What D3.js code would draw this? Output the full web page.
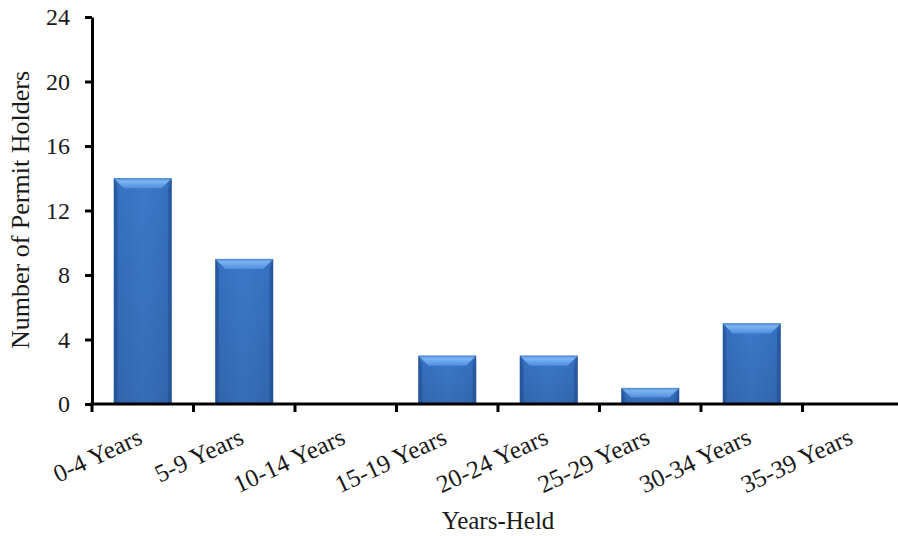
<!DOCTYPE html>
<html>
<head>
<meta charset="utf-8">
<script src="https://cdn.jsdelivr.net/npm/d3@7/dist/d3.min.js"></script>
<style>
  html, body { margin: 0; padding: 0; background: #fff; }
  svg { display: block; }
  text { font-family: "Liberation Serif", "Times New Roman", serif; fill: #1a1a1a; }
</style>
</head>
<body>
<svg id="chart" width="898" height="536"></svg>
<script>
// Permit holders by years the permit has been held
const categories = ["0-4 Years", "5-9 Years", "10-14 Years", "15-19 Years",
                    "20-24 Years", "25-29 Years", "30-34 Years", "35-39 Years"];
const holders = [14, 9, 0, 3, 3, 1, 5, 0];
const yTicks = [0, 4, 8, 12, 16, 20, 24];
const xTitle = "Years-Held";
const yTitle = "Number of Permit Holders";

const svg = d3.select("#chart");
const plotLeft = 92, plotRight = 904, plotTop = 17, plotBottom = 404;

const x = d3.scaleBand().domain(categories).range([plotLeft, plotRight])
  .paddingInner(0.43).paddingOuter(0.215);
const y = d3.scaleLinear().domain([0, 24]).range([plotBottom, plotTop]);

// gradients for the bevelled bars
const defs = svg.append("defs");
const body = defs.append("linearGradient").attr("id", "barBody")
  .attr("x1", 0).attr("x2", 1).attr("y1", 0).attr("y2", 0);
body.append("stop").attr("offset", "0%").attr("stop-color", "#2b5ea8");
body.append("stop").attr("offset", "8%").attr("stop-color", "#3671c0");
body.append("stop").attr("offset", "50%").attr("stop-color", "#3c79c9");
body.append("stop").attr("offset", "92%").attr("stop-color", "#3671c0");
body.append("stop").attr("offset", "100%").attr("stop-color", "#2b5ea8");

const shade = defs.append("linearGradient").attr("id", "barShade")
  .attr("x1", 0).attr("x2", 0).attr("y1", 0).attr("y2", 1);
shade.append("stop").attr("offset", "0%").attr("stop-color", "#000").attr("stop-opacity", 0);
shade.append("stop").attr("offset", "100%").attr("stop-color", "#000").attr("stop-opacity", 0.1);

const topBevel = defs.append("linearGradient").attr("id", "barTop")
  .attr("x1", 0).attr("x2", 0).attr("y1", 0).attr("y2", 1);
topBevel.append("stop").attr("offset", "0%").attr("stop-color", "#4a88d8");
topBevel.append("stop").attr("offset", "30%").attr("stop-color", "#7db3f1");
topBevel.append("stop").attr("offset", "100%").attr("stop-color", "#4f8ede");

const bev = 10;
const bars = svg.append("g").selectAll("g.bar")
  .data(categories.map((c, i) => ({ c, v: holders[i] })).filter(d => d.v > 0))
  .join("g").attr("class", "bar");

bars.each(function (d) {
  const g = d3.select(this);
  const x0 = x(d.c), w = x.bandwidth();
  const y0 = y(d.v), h = y(0) - y(d.v);
  const b = Math.min(bev, h * 0.6, w / 2);
  const s = 3.5;
  g.append("rect").attr("x", x0).attr("y", y0).attr("width", w).attr("height", h)
    .attr("fill", "url(#barBody)");
  g.append("rect").attr("x", x0).attr("y", y0).attr("width", w).attr("height", h)
    .attr("fill", "url(#barShade)");
  // side bevels
  g.append("polygon")
    .attr("points", [[x0, y0], [x0 + s, y0 + b], [x0 + s, y0 + h], [x0, y0 + h]].join(" "))
    .attr("fill", "#23529a").attr("opacity", 0.6);
  g.append("polygon")
    .attr("points", [[x0 + w, y0], [x0 + w - s, y0 + b], [x0 + w - s, y0 + h], [x0 + w, y0 + h]].join(" "))
    .attr("fill", "#23529a").attr("opacity", 0.6);
  // top bevel
  g.append("polygon")
    .attr("points", [[x0, y0], [x0 + w, y0], [x0 + w - b, y0 + b], [x0 + b, y0 + b]].join(" "))
    .attr("fill", "url(#barTop)");
});

// y axis
const yAxis = svg.append("g").attr("transform", `translate(${plotLeft},0)`)
  .call(d3.axisLeft(y).tickValues(yTicks).tickSize(7).tickPadding(15).tickSizeOuter(0));
yAxis.select(".domain").attr("stroke", "#000").attr("stroke-width", 3);
yAxis.selectAll(".tick line").attr("stroke", "#000").attr("stroke-width", 3);
yAxis.selectAll(".tick text").attr("font-size", 24)
  .attr("font-family", "Liberation Serif, serif").attr("fill", "#1a1a1a");

// x axis line with ticks between categories
const step = x.step();
const xg = svg.append("g");
xg.append("line").attr("x1", plotLeft - 1.5).attr("x2", 898).attr("y1", plotBottom).attr("y2", plotBottom)
  .attr("stroke", "#000").attr("stroke-width", 3);
const bounds = categories.map(c => x(c) - step * x.paddingInner() / 2);
xg.selectAll("line.tk").data(bounds).join("line").attr("class", "tk")
  .attr("x1", d => d).attr("x2", d => d).attr("y1", plotBottom).attr("y2", plotBottom + 8)
  .attr("stroke", "#000").attr("stroke-width", 3);

// rotated category labels
xg.selectAll("text.cat").data(categories).join("text").attr("class", "cat")
  .attr("transform", d => `translate(${x(d) + x.bandwidth() / 2 + 1},443) rotate(-25)`)
  .attr("text-anchor", "end").attr("font-size", 25).text(d => d);

// axis titles
svg.append("text").attr("x", (plotLeft + plotRight) / 2).attr("y", 529)
  .attr("text-anchor", "middle").attr("font-size", 25).text(xTitle);
svg.append("text").attr("transform", "translate(29,210) rotate(-90)")
  .attr("text-anchor", "middle").attr("font-size", 26).text(yTitle);
</script>
</body>
</html>
